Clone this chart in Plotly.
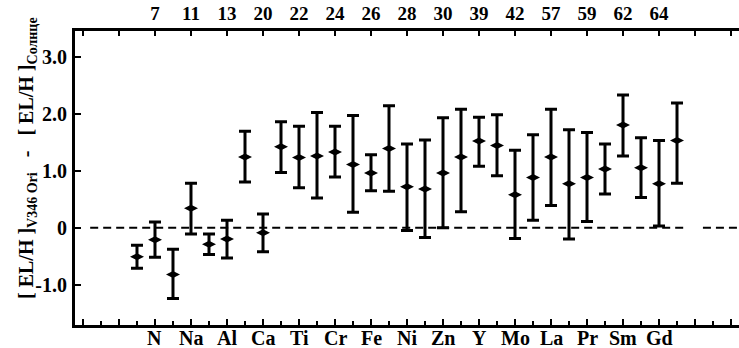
import plotly.graph_objects as go

# ---- data ----
positions = list(range(31))
abundance = [-0.51, -0.21, -0.82, 0.34, -0.29, -0.20, 1.24, -0.09, 1.42, 1.23,
             1.26, 1.33, 1.11, 0.96, 1.39, 0.72, 0.68, 0.96, 1.24, 1.52,
             1.44, 0.58, 0.88, 1.24, 0.77, 0.88, 1.03, 1.80, 1.05, 0.77, 1.53]
err_plus = [0.20, 0.31, 0.44, 0.44, 0.18, 0.33, 0.45, 0.33, 0.44, 0.55,
            0.76, 0.45, 0.86, 0.32, 0.75, 0.75, 0.86, 0.97, 0.84, 0.42,
            0.54, 0.78, 0.75, 0.84, 0.95, 0.79, 0.44, 0.53, 0.53, 0.76, 0.66]
err_minus = [0.20, 0.31, 0.42, 0.45, 0.18, 0.33, 0.44, 0.33, 0.45, 0.53,
             0.74, 0.44, 0.84, 0.31, 0.75, 0.77, 0.85, 0.96, 0.96, 0.44,
             0.53, 0.77, 0.75, 0.85, 0.97, 0.77, 0.44, 0.54, 0.52, 0.74, 0.75]

label_positions = [1, 3, 5, 7, 9, 11, 13, 15, 17, 19, 21, 23, 25, 27, 29]
element_labels = ["N", "Na", "Al", "Ca", "Ti", "Cr", "Fe", "Ni", "Zn", "Y",
                  "Mo", "La", "Pr", "Sm", "Gd"]
atomic_numbers = ["7", "11", "13", "20", "22", "24", "26", "28", "30", "39",
                  "42", "57", "59", "62", "64"]

y_ticks = [-1, 0, 1, 2, 3]
y_ticktext = ["-1.0", "0", "1.0", "2.0", "3.0"]

major_ticks = list(range(-3, 34, 2))
minor_ticks = list(range(-2, 34, 2))

x_range = [-3.444, 33.444]
y_range = [-1.707, 3.451]

FONT = "Liberation Serif"

top_text = [atomic_numbers[label_positions.index(v)] if v in label_positions else ""
            for v in major_ticks]

fig = go.Figure()
fig.add_trace(go.Scatter(
    x=positions, y=abundance, mode="markers",
    marker=dict(symbol="diamond-wide", size=10, color="black"),
    error_y=dict(type="data", symmetric=False, array=err_plus, arrayminus=err_minus,
                 color="black", thickness=3, width=6),
    showlegend=False, hoverinfo="skip",
))
# invisible trace to anchor the top axis
fig.add_trace(go.Scatter(x=[positions[0]], y=[abundance[0]], xaxis="x2",
                         mode="markers", marker=dict(opacity=0), showlegend=False,
                         hoverinfo="skip"))

# dashed zero line (two segments, gap as in reference)
fig.add_shape(type="line", xref="x", yref="y", x0=-2.6, x1=30.56, y0=0, y1=0,
              line=dict(color="black", width=2, dash="8px,5px"), layer="below")
fig.add_shape(type="line", xref="x", yref="y", x0=31.44, x1=33.44, y0=0, y1=0,
              line=dict(color="black", width=2, dash="8px,5px"), layer="below")

annotations = [dict(
    text="[ EL/H ]<sub>V346 Ori</sub>   -   [ EL/H ]<sub>Солнце</sub>",
    xref="paper", yref="paper", x=-0.0723, y=0.568,
    xanchor="center", yanchor="middle", textangle=-90, showarrow=False,
    font=dict(family=FONT, size=20, color="black", weight="bold"),
)]
# bottom element labels
for pos, lab in zip(label_positions, element_labels):
    annotations.append(dict(
        text=lab, xref="x", yref="paper", x=pos, y=-0.044,
        xanchor="center", yanchor="middle", showarrow=False,
        font=dict(family=FONT, size=20, color="black", weight="bold"),
    ))

fig.update_layout(
    width=739, height=348,
    margin=dict(l=75, r=0, t=31, b=23, autoexpand=False),
    plot_bgcolor="white", paper_bgcolor="white",
    font=dict(family=FONT, size=20, color="black"),
    xaxis=dict(
        range=x_range, showgrid=False, zeroline=False, automargin=False,
        showline=True, linewidth=3, linecolor="black",
        tickmode="array", tickvals=major_ticks, showticklabels=False,
        ticks="inside", ticklen=6, tickwidth=2, tickcolor="black",
        minor=dict(tickmode="array", tickvals=minor_ticks, ticks="inside",
                   ticklen=4, tickwidth=2, tickcolor="black"),
    ),
    xaxis2=dict(
        range=x_range, overlaying="x", side="top", anchor="y", automargin=False,
        showgrid=False, zeroline=False,
        showline=True, linewidth=3, linecolor="black",
        tickmode="array", tickvals=major_ticks, ticktext=top_text,
        ticks="inside", ticklen=5, tickwidth=2, tickcolor="black",
        tickfont=dict(family=FONT, size=19, color="black", weight="bold"),
    ),
    yaxis=dict(
        range=y_range, showgrid=False, zeroline=False, automargin=False,
        showline=True, linewidth=3, linecolor="black",
        tickmode="array", tickvals=y_ticks, ticktext=y_ticktext,
        ticks="inside", ticklen=6, tickwidth=2, tickcolor="black",
        ticklabelstandoff=1,
        tickfont=dict(family=FONT, size=20, color="black", weight="bold"),
    ),
    annotations=annotations,
)

fig.write_html("out.html",
               config={"displayModeBar": False},
               post_script="document.body.style.margin='0px';"
                           "document.body.style.overflow='hidden';")
